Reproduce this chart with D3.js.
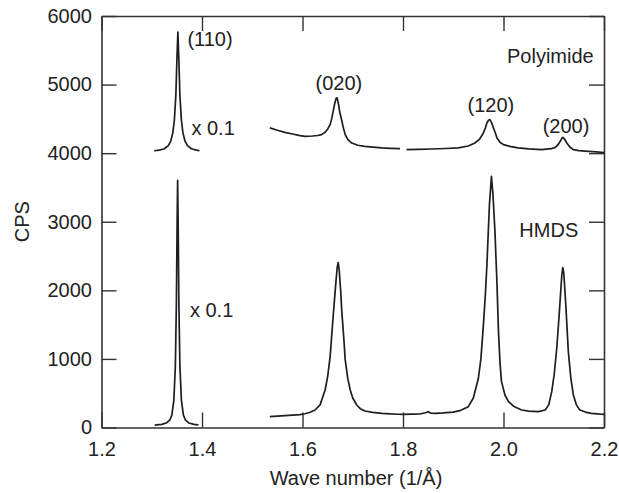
<!DOCTYPE html>
<html>
<head>
<meta charset="utf-8">
<script src="https://cdn.jsdelivr.net/npm/d3@7"></script>
<style>
  html, body { margin: 0; padding: 0; background: #fff; }
  svg { display: block; }
  text { font-family: "Liberation Sans", Arial, Helvetica, sans-serif; fill: #222; }
</style>
</head>
<body>
<svg id="chart" width="619" height="493"></svg>
<script>
// X-ray diffraction profiles (counts per second vs. wave number)
const xTicks = [1.2, 1.4, 1.6, 1.8, 2.0, 2.2];
const yTicks = [0, 1000, 2000, 3000, 4000, 5000, 6000];

// Polyimide substrate: (110) reflection shown scaled by 0.1
const polyScaled = [
  [1.305, 4035], [1.315, 4045], [1.325, 4065], [1.333, 4110], [1.338, 4180],
  [1.342, 4300], [1.345, 4480], [1.348, 4850], [1.350, 5350], [1.352, 5765],
  [1.354, 5350], [1.356, 4850], [1.359, 4480], [1.362, 4300], [1.366, 4180],
  [1.371, 4110], [1.379, 4065], [1.389, 4045], [1.395, 4035]
];
// Polyimide substrate: main scan, two pieces
const polyMainA = [
  [1.535, 4368], [1.550, 4335], [1.565, 4304], [1.580, 4280], [1.595, 4255],
  [1.605, 4245], [1.620, 4250], [1.630, 4258], [1.638, 4270], [1.645, 4305],
  [1.650, 4350], [1.655, 4416], [1.658, 4500], [1.661, 4610], [1.664, 4720],
  [1.667, 4800], [1.669, 4806], [1.672, 4700], [1.674, 4600], [1.677, 4513],
  [1.681, 4380], [1.685, 4270], [1.690, 4200], [1.698, 4148], [1.710, 4115],
  [1.724, 4100], [1.740, 4088], [1.758, 4076], [1.775, 4070], [1.794, 4066]
];
const polyMainB = [
  [1.807, 4051], [1.830, 4055], [1.857, 4061], [1.885, 4068], [1.910, 4076],
  [1.930, 4105], [1.943, 4148], [1.952, 4200], [1.960, 4294], [1.964, 4370],
  [1.967, 4440], [1.970, 4480], [1.973, 4489], [1.976, 4450], [1.980, 4368],
  [1.984, 4290], [1.987, 4221], [1.993, 4160], [2.000, 4124], [2.015, 4095],
  [2.029, 4076], [2.050, 4062], [2.076, 4051], [2.095, 4065], [2.103, 4085],
  [2.108, 4120], [2.113, 4173], [2.116, 4215], [2.118, 4231], [2.121, 4210],
  [2.126, 4148], [2.132, 4090], [2.139, 4051], [2.150, 4038], [2.169, 4027],
  [2.185, 4018], [2.200, 4010]
];

// HMDS-treated substrate: (110) reflection shown scaled by 0.1
const hmdsScaled = [
  [1.306, 35], [1.320, 45], [1.330, 70], [1.336, 110], [1.340, 180],
  [1.344, 400], [1.347, 900], [1.349, 1800], [1.3505, 3000], [1.3515, 3603],
  [1.3525, 3000], [1.354, 1800], [1.356, 900], [1.359, 400], [1.363, 180],
  [1.367, 110], [1.374, 65], [1.384, 45], [1.393, 38]
];
// HMDS-treated substrate: main scan
const hmdsMain = [
  [1.535, 158], [1.550, 165], [1.565, 172], [1.580, 180], [1.595, 188],
  [1.605, 200], [1.615, 222], [1.625, 255], [1.635, 330], [1.645, 547],
  [1.650, 740], [1.655, 1034], [1.661, 1618], [1.666, 2080], [1.669, 2330],
  [1.671, 2406], [1.673, 2300], [1.676, 1990], [1.678, 1715], [1.682, 1320],
  [1.685, 985], [1.690, 720], [1.695, 547], [1.700, 430], [1.708, 328],
  [1.715, 275], [1.724, 241], [1.740, 220], [1.758, 207], [1.775, 198],
  [1.790, 193], [1.800, 190], [1.817, 195], [1.835, 200], [1.845, 215],
  [1.850, 231], [1.855, 210], [1.864, 207], [1.880, 212], [1.900, 225],
  [1.915, 250], [1.930, 304], [1.940, 430], [1.950, 718], [1.955, 1000],
  [1.960, 1496], [1.964, 1950], [1.967, 2372], [1.972, 3248], [1.976, 3661],
  [1.979, 3400], [1.983, 2858], [1.987, 2100], [1.990, 1398], [1.993, 950],
  [1.996, 669], [2.003, 470], [2.010, 377], [2.020, 310], [2.036, 255],
  [2.050, 240], [2.069, 231], [2.083, 255], [2.090, 330], [2.096, 523],
  [2.101, 780], [2.106, 1156], [2.110, 1560], [2.113, 1886], [2.116, 2220],
  [2.118, 2333], [2.120, 2250], [2.124, 1788], [2.129, 1107], [2.134, 720],
  [2.139, 474], [2.145, 330], [2.152, 255], [2.163, 225], [2.175, 207],
  [2.187, 200], [2.195, 193], [2.200, 190]
];

// Peak and sample labels, anchored in data coordinates
const annotations = [
  { text: "(110)", x: 1.371, y: 5560 },
  { text: "x 0.1", x: 1.379, y: 4264 },
  { text: "(020)", x: 1.626, y: 4928 },
  { text: "Polyimide", x: 2.007, y: 5317 },
  { text: "(120)", x: 1.9285, y: 4597 },
  { text: "(200)", x: 2.078, y: 4295 },
  { text: "HMDS", x: 2.0315, y: 2781 },
  { text: "x 0.1", x: 1.376, y: 1618 }
];

const margin = { left: 101.5, right: 15, top: 16, bottom: 65.5 };
const W = 619, H = 493;

const x = d3.scaleLinear().domain([1.2, 2.2]).range([margin.left, W - margin.right]);
const y = d3.scaleLinear().domain([0, 6000]).range([H - margin.bottom, margin.top]);

const svg = d3.select("#chart");
const ink = "#333";

// Axes with inward ticks on all four sides
const fmtX = d3.format(".1f");
const gB = svg.append("g").attr("transform", `translate(0,${y(0)})`)
  .call(d3.axisBottom(x).tickValues(xTicks).tickSizeInner(-15).tickSizeOuter(0)
    .tickPadding(14).tickFormat(fmtX));
const gT = svg.append("g").attr("transform", `translate(0,${y(6000)})`)
  .call(d3.axisTop(x).tickValues(xTicks).tickSizeInner(-15).tickSizeOuter(0).tickFormat(""));
const gL = svg.append("g").attr("transform", `translate(${x(1.2)},0)`)
  .call(d3.axisLeft(y).tickValues(yTicks).tickSizeInner(-15).tickSizeOuter(0)
    .tickPadding(9.5).tickFormat(d3.format("d")));
const gR = svg.append("g").attr("transform", `translate(${x(2.2)},0)`)
  .call(d3.axisRight(y).tickValues(yTicks).tickSizeInner(-15).tickSizeOuter(0).tickFormat(""));

[gB, gT, gL, gR].forEach(g => {
  g.selectAll("path.domain").attr("stroke", ink).attr("stroke-width", 1.6);
  g.selectAll(".tick line").attr("stroke", ink).attr("stroke-width", 1.4);
  g.selectAll(".tick text").attr("fill", "#222")
    .style("font-family", '"Liberation Sans", Arial, sans-serif')
    .style("font-size", "20px");
});

// Axis titles
svg.append("text")
  .attr("x", 356).attr("y", 485)
  .attr("text-anchor", "middle")
  .style("font-size", "20px")
  .text("Wave number (1/Å)");

svg.append("text")
  .attr("transform", `translate(29,${(y(0) + y(6000)) / 2}) rotate(-90)`)
  .attr("text-anchor", "middle")
  .style("font-size", "20px")
  .text("CPS");

// Profiles
const line = d3.line().x(d => x(d[0])).y(d => y(d[1]));
const segments = [polyScaled, polyMainA, polyMainB, hmdsScaled, hmdsMain];
svg.append("g").selectAll("path")
  .data(segments)
  .join("path")
  .attr("d", line)
  .attr("fill", "none")
  .attr("stroke", "#1e1e1e")
  .attr("stroke-width", 1.7)
  .attr("stroke-linejoin", "round");

// Labels
svg.append("g").selectAll("text")
  .data(annotations)
  .join("text")
  .attr("x", d => x(d.x))
  .attr("y", d => y(d.y))
  .style("font-size", "20px")
  .text(d => d.text);
</script>
</body>
</html>
